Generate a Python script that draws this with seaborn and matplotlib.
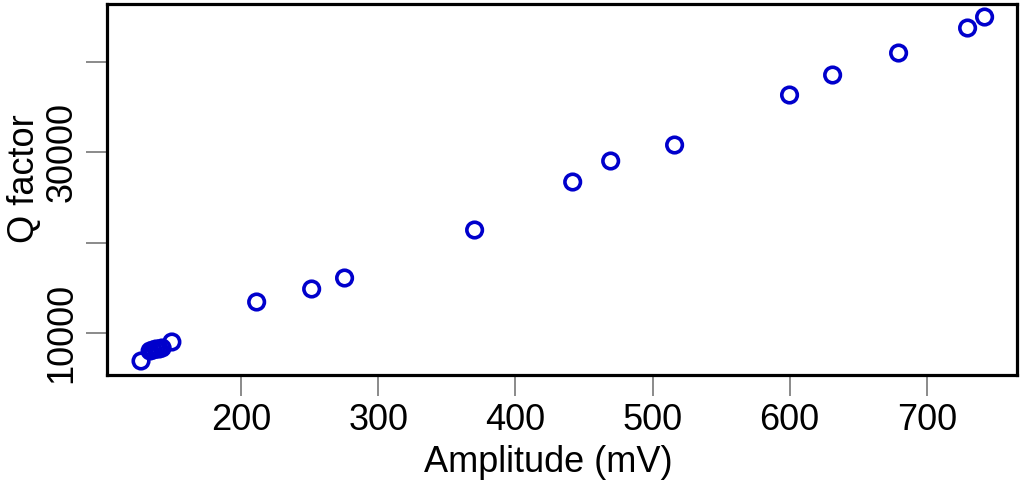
import matplotlib
matplotlib.use('Agg')
import matplotlib.pyplot as plt
import seaborn as sns
import pandas as pd

# values
amplitude_mv = [127.1, 133.7, 135.9, 138.1, 140.3, 142.5, 149.6, 211.4, 251.5,
                275.5, 370.3, 441.8, 469.5, 516.1, 599.9, 631.3, 679.4, 729.7, 742.1]
q_factor = [6906, 8011, 8122, 8232, 8232, 8343, 9006, 13425, 14862,
            16077, 21381, 26685, 29006, 30773, 36298, 38508, 40939, 43702, 44917]
x_ticks = [200, 300, 400, 500, 600, 700]
y_ticks = [10000, 20000, 30000, 40000]
y_tick_labels = ['10000', '', '30000', '']

df = pd.DataFrame({'amplitude': amplitude_mv, 'q': q_factor})

sns.set_style('white')
plt.rcParams['font.family'] = ['Liberation Sans', 'DejaVu Sans']
plt.rcParams['text.color'] = 'black'
plt.rcParams['axes.labelcolor'] = 'black'
plt.rcParams['xtick.labelcolor'] = 'black'
plt.rcParams['ytick.labelcolor'] = 'black'

fig = plt.figure(figsize=(10.24, 4.9), dpi=100)
ax = fig.add_axes([0.1045, 0.2347, 0.8885, 0.7571])

sns.scatterplot(data=df, x='amplitude', y='q', ax=ax, marker='o', s=125,
                facecolors='none', edgecolor='#0000cc', linewidth=2.6)

ax.set_xlim(102.3, 765.6)
ax.set_ylim(5359, 46354)
ax.set_xticks(x_ticks)
ax.set_xticklabels([str(t) for t in x_ticks], fontsize=26)
ax.set_yticks(y_ticks)
ax.set_yticklabels(y_tick_labels, fontsize=26, rotation=90, va='center')

ax.tick_params(axis='both', direction='out', length=15, width=1.2,
               color='#777777', pad=5, left=True, bottom=True)

for sp in ax.spines.values():
    sp.set_color('black')
    sp.set_linewidth(2.3)

ax.set_xlabel('Amplitude (mV)', fontsize=26)
ax.set_ylabel('Q factor', fontsize=26)
ax.xaxis.set_label_coords(0.485, -0.19)
ax.yaxis.set_label_coords(-0.072, 0.53)

fig.savefig('out.png', dpi=100)
plt.close(fig)
